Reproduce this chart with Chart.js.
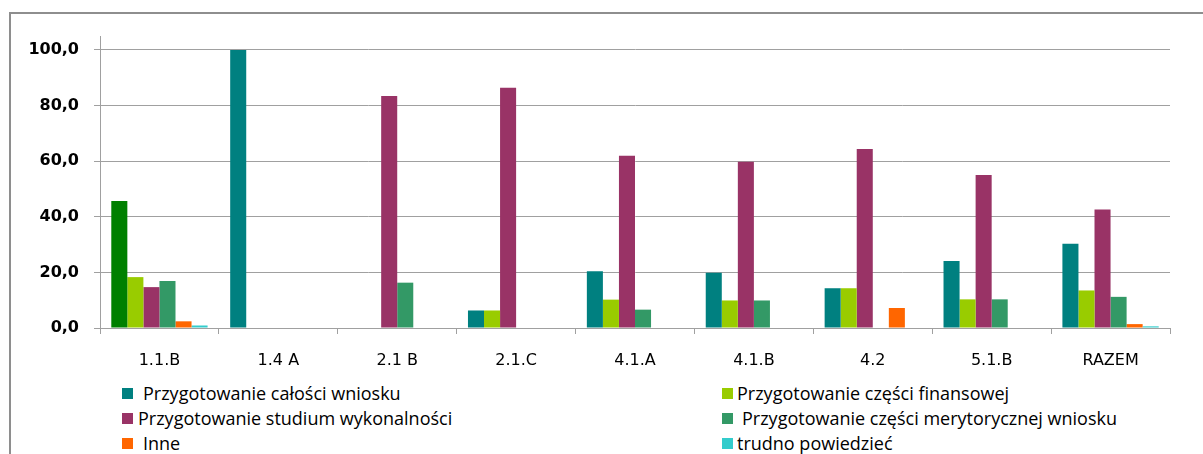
<!DOCTYPE html>
<html>
<head>
<meta charset="utf-8">
<script src="https://cdn.jsdelivr.net/npm/chart.js@4"></script>
<style>
    html, body { margin: 0; padding: 0; background: #fff; overflow: hidden; }
    body { width: 1203px; height: 454px; position: relative; }
    #frame {
        position: absolute; left: 9px; top: 12px; width: 1300px; height: 500px;
        border-left: 2px solid #8e8e8e; border-top: 2px solid #8e8e8e;
    }
    #chart-wrap { position: absolute; left: 0; top: 0; width: 1203px; height: 380px; }
    #legend {
        position: absolute; left: 0; top: 380px; width: 1203px;
        font-family: "Open Sans", sans-serif; font-size: 18px; line-height: 24px; color: #000;
    }
    .item { position: absolute; display: flex; align-items: center; white-space: nowrap; }
    .box { width: 11px; height: 11px; display: inline-block; }
</style>
</head>
<body>
<div id="frame"></div>
<div id="chart-wrap"><canvas id="sources-chart"></canvas></div>
<div id="legend"></div>
<script>
const categories = ["1.1.B", "1.4 A", "2.1 B", "2.1.C", "4.1.A", "4.1.B", "4.2", "5.1.B", "RAZEM"];

const seriesNames = [
    "Przygotowanie całości wniosku",
    "Przygotowanie części finansowej",
    "Przygotowanie studium wykonalności",
    "Przygotowanie części merytorycznej wniosku",
    "Inne",
    "trudno powiedzieć",
];

const calosc = [45.7, 100, 0, 6.3, 20.4, 19.9, 14.3, 24.1, 30.3];
const finansowa = [18.3, 0, 0, 6.3, 10.2, 9.9, 14.3, 10.3, 13.5];
const studium = [14.7, 0, 83.4, 86.4, 61.9, 59.8, 64.4, 55.0, 42.6];
const merytoryczna = [16.9, 0, 16.3, 0, 6.6, 9.9, 0, 10.3, 11.2];
const inne = [2.4, 0, 0, 0, 0, 0, 7.2, 0, 1.4];
const trudno = [0.9, 0, 0, 0, 0, 0, 0, 0, 0.6];

const yTicks = [0, 20, 40, 60, 80, 100];

const colors = ["#008080", "#99CC00", "#993366", "#339966", "#FF6600", "#33CCCC"];

function buildChart() {
    const el = document.getElementById("sources-chart");
    const ctx = el.getContext("2d");

    // first bar of the first series is drawn in a different green in the original
    const firstColors = categories.map((c, i) => (i === 0 ? "#008000" : colors[0]));

    const values = [calosc, finansowa, studium, merytoryczna, inne, trudno];
    const datasets = values.map((data, i) => ({
        label: seriesNames[i],
        data: data,
        backgroundColor: i === 0 ? firstColors : colors[i],
        borderWidth: 0,
        barPercentage: 1,
        categoryPercentage: 0.81,
    }));

    const chart = new Chart(ctx, {
        type: "bar",
        data: { labels: categories, datasets: datasets },
        options: {
            responsive: true,
            maintainAspectRatio: false,
            animation: false,
            layout: { padding: { left: 0, right: 33, top: 36, bottom: 0 } },
            plugins: {
                legend: { display: false },
                tooltip: { enabled: false },
            },
            scales: {
                x: {
                    grid: {
                        offset: true,
                        drawOnChartArea: false,
                        drawTicks: true,
                        tickLength: 6,
                        color: "#a0a0a0",
                    },
                    border: { color: "#a0a0a0" },
                    ticks: {
                        color: "#000",
                        padding: 17,
                        font: { family: "DejaVu Sans", size: 16 },
                        maxRotation: 0,
                    },
                    afterFit: (s) => { s.height = 52; },
                },
                y: {
                    min: 0,
                    max: 105,
                    afterBuildTicks: (axis) => {
                        axis.ticks = yTicks.map((v) => ({ value: v }));
                    },
                    grid: { color: "#a0a0a0", tickLength: 6 },
                    border: { color: "#a0a0a0" },
                    ticks: {
                        color: "#000",
                        padding: 15,
                        font: { family: "DejaVu Sans", size: 16, weight: "bold" },
                        callback: (v) => v.toFixed(1).replace(".", ","),
                    },
                    afterFit: (s) => { s.width = 100; },
                },
            },
        },
    });

    // legend in two fixed columns, like the original
    const legend = document.getElementById("legend");
    const spots = [
        [122, 143], [722, 737],
        [122, 138], [722, 742],
        [122, 143], [722, 737],
    ];
    chart.data.datasets.forEach((ds, i) => {
        const row = Math.floor(i / 2);
        const item = document.createElement("div");
        item.className = "item";
        item.style.left = spots[i][0] + "px";
        item.style.top = (1 + row * 25) + "px";
        const box = document.createElement("span");
        box.className = "box";
        box.style.background = colors[i];
        box.style.marginRight = (spots[i][1] - spots[i][0] - 11) + "px";
        const text = document.createElement("span");
        text.textContent = ds.label;
        item.appendChild(box);
        item.appendChild(text);
        legend.appendChild(item);
    });
}

document.addEventListener("DOMContentLoaded", buildChart);
</script>
</body>
</html>
